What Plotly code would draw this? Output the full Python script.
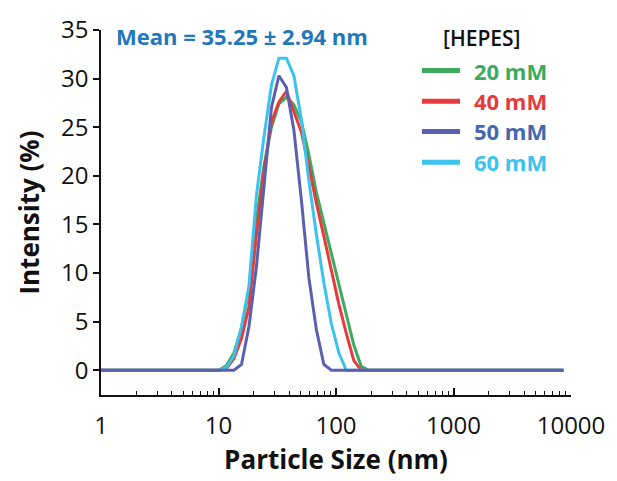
import plotly.graph_objects as go

# DLS size bins (nm)
sizes = [0.9649, 1.117, 1.294, 1.499, 1.736, 2.01, 2.328, 2.696, 3.122, 3.615,
         4.187, 4.849, 5.615, 6.503, 7.531, 8.721, 10.1, 11.7, 13.54, 15.69,
         18.17, 21.04, 24.36, 28.21, 32.67, 37.84, 43.82, 50.75, 58.77, 68.06,
         78.82, 91.28, 105.7, 122.4, 141.8, 164.2, 190.1, 220.2, 255, 295.3,
         342, 396.1, 458.7, 531.2, 615.1, 712.4, 825, 955.4, 1106, 1281,
         1484, 1718, 1990, 2305, 2669, 3091, 3580, 4145, 4801, 5560,
         6439, 7456, 8635]

hepes_20mM = [0, 0, 0, 0, 0, 0, 0, 0, 0, 0,
              0, 0, 0, 0, 0, 0, 0, 0.5, 1.8, 4.3,
              8.3, 15.5, 21.0, 25.0, 27.4, 28.1, 27.3, 25.6, 22.2, 18.3,
              15.2, 12.0, 8.8, 5.6, 2.6, 0.4, 0, 0, 0, 0,
              0, 0, 0, 0, 0, 0, 0, 0, 0, 0,
              0, 0, 0, 0, 0, 0, 0, 0, 0, 0,
              0, 0, 0]

hepes_40mM = [0, 0, 0, 0, 0, 0, 0, 0, 0, 0,
              0, 0, 0, 0, 0, 0, 0, 0.2, 1.2, 3.3,
              6.5, 14.0, 20.5, 25.5, 27.6, 28.7, 26.5, 24.5, 21.0, 17.2,
              13.8, 10.2, 6.8, 3.8, 1.0, 0, 0, 0, 0, 0,
              0, 0, 0, 0, 0, 0, 0, 0, 0, 0,
              0, 0, 0, 0, 0, 0, 0, 0, 0, 0,
              0, 0, 0]

hepes_50mM = [0, 0, 0, 0, 0, 0, 0, 0, 0, 0,
              0, 0, 0, 0, 0, 0, 0, 0, 0, 0.6,
              4.5, 10.7, 18.5, 27.0, 30.3, 29.1, 24.7, 17.5, 9.5, 4.2,
              0.6, 0, 0, 0, 0, 0, 0, 0, 0, 0,
              0, 0, 0, 0, 0, 0, 0, 0, 0, 0,
              0, 0, 0, 0, 0, 0, 0, 0, 0, 0,
              0, 0, 0]

hepes_60mM = [0, 0, 0, 0, 0, 0, 0, 0, 0, 0,
              0, 0, 0, 0, 0, 0, 0, 0.3, 1.5, 4.5,
              8.7, 18.0, 24.0, 29.3, 32.1, 32.1, 30.3, 25.8, 19.5, 14.0,
              9.0, 4.8, 1.8, 0, 0, 0, 0, 0, 0, 0,
              0, 0, 0, 0, 0, 0, 0, 0, 0, 0,
              0, 0, 0, 0, 0, 0, 0, 0, 0, 0,
              0, 0, 0]

series_names = ["20 mM", "40 mM", "50 mM", "60 mM"]
x_tick_vals = [1, 10, 100, 1000, 10000]
x_tick_text = ["1", "10", "100", "1000", "10000"]
y_tick_vals = [0, 5, 10, 15, 20, 25, 30, 35]
mean_text = "Mean = 35.25 ± 2.94 nm"
legend_title = "[HEPES]"

line_colors = {"20 mM": "#3daa5e", "40 mM": "#e63a3c", "50 mM": "#5a60ae", "60 mM": "#3cc2ec"}
text_colors = {"20 mM": "#3daa5e", "40 mM": "#e63a3c", "50 mM": "#4468b0", "60 mM": "#3cc2ec"}
data = {"20 mM": hepes_20mM, "40 mM": hepes_40mM, "50 mM": hepes_50mM, "60 mM": hepes_60mM}

FONT = "Open Sans"
fig = go.Figure()
for name in ["20 mM", "40 mM", "60 mM", "50 mM"]:
    fig.add_trace(go.Scatter(x=sizes, y=data[name], mode="lines", name=name,
                             line=dict(color=line_colors[name], width=3),
                             showlegend=False))

# manual legend
leg_y = [0.889, 0.805, 0.722, 0.638]
for name, yy in zip(series_names, leg_y):
    fig.add_shape(type="line", xref="paper", yref="paper", x0=0.683, x1=0.764, y0=yy, y1=yy,
                  line=dict(color=line_colors[name], width=5))
    fig.add_annotation(xref="paper", yref="paper", x=0.789, y=yy, xanchor="left", yanchor="middle",
                       text="<b>" + name + "</b>", showarrow=False,
                       font=dict(family=FONT, size=22, color=text_colors[name]))
fig.add_annotation(xref="paper", yref="paper", x=0.811, y=0.978, xanchor="center", yanchor="middle",
                   text=legend_title, showarrow=False,
                   font=dict(family=FONT, size=21, color="#111111", weight=600))
fig.add_annotation(xref="paper", yref="paper", x=0.300, y=0.984, xanchor="center", yanchor="middle",
                   text="<b>" + mean_text + "</b>", showarrow=False,
                   font=dict(family=FONT, size=22, color="#1f78bc"))

fig.update_layout(
    width=617, height=481,
    margin=dict(l=101, r=46, t=25, b=86),
    plot_bgcolor="white", paper_bgcolor="white",
    font=dict(family=FONT, color="#111111"),
)
fig.update_xaxes(
    type="log", range=[0, 4],
    tickvals=x_tick_vals, ticktext=x_tick_text,
    ticks="inside", ticklen=7, tickwidth=1.5, tickcolor="#111111",
    minor=dict(ticks="inside", ticklen=4, tickwidth=1.2, tickcolor="#111111", dtick="D1", showgrid=False),
    showline=True, linewidth=1.5, linecolor="#111111", mirror=False,
    showgrid=False, zeroline=False,
    ticklabelstandoff=8,
    tickfont=dict(family=FONT, size=24, color="#111111"),
    title=dict(text="<b>Particle Size (nm)</b>", font=dict(family=FONT, size=26, color="#111111"), standoff=9),
)
fig.update_yaxes(
    range=[-2.54, 35],
    tickvals=y_tick_vals,
    ticks="outside", ticklen=6, tickwidth=1.5, tickcolor="#111111",
    showline=True, linewidth=1.5, linecolor="#111111",
    showgrid=False, zeroline=False,
    tickfont=dict(family=FONT, size=24, color="#111111"),
    title=dict(text="<b>Intensity (%)</b>", font=dict(family=FONT, size=26, color="#111111"), standoff=14),
)

fig.write_html("out.html")
